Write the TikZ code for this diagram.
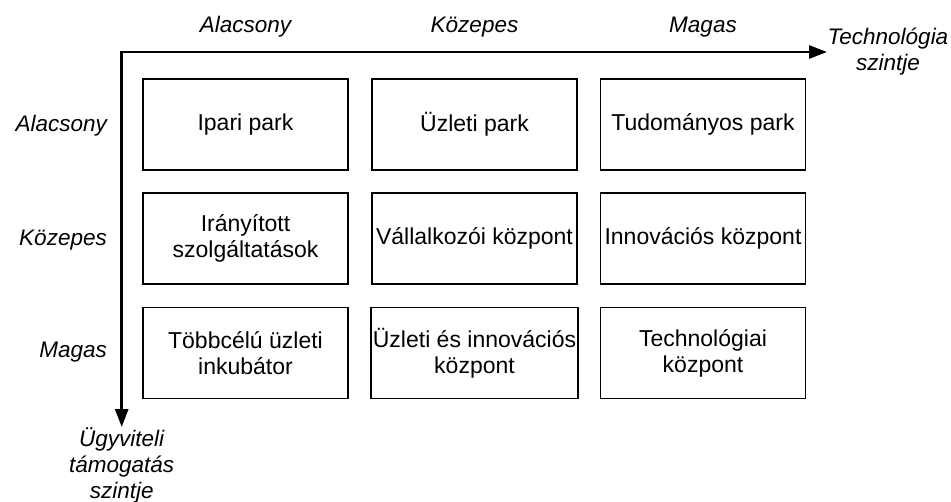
\documentclass[tikz,border=0pt]{standalone}
\usepackage{fontspec}
\setmainfont{Liberation Sans}
\usetikzlibrary{arrows.meta}
\begin{document}
\begin{tikzpicture}[x=1pt,y=-1pt,
  cell/.style={draw, line width=1.3pt, minimum width=205pt, minimum height=91pt,
    align=center, font=\fontsize{23}{26}\selectfont, inner sep=2pt},
  lbl/.style={font=\fontsize{22.5}{26}\selectfont\itshape, align=center, inner sep=0pt},
  axis/.style={line width=2.7pt, line join=miter,
    {Triangle[length=18pt,width=13pt]}-{Triangle[length=18pt,width=13pt]}}]
\useasboundingbox (0,0) rectangle (951,501);
% axes
\coordinate (O) at (121.7,52);
\coordinate (xend) at (827,52);
\coordinate (yend) at (121.7,427);
\draw[axis] (yend) -- (O) -- (xend);
\node[lbl] (xlab) at (888,52) {Technológia\\szintje};
\node[lbl] (ylab) at (121.7,465) {Ügyviteli\\támogatás\\szintje};
% column headers
\node[lbl] (c1) at (245.5,27) {Alacsony};
\node[lbl] (c2) at (474.5,27) {Közepes};
\node[lbl] (c3) at (703,27) {Magas};
% row headers
\node[lbl, anchor=east] (r1) at (107,126) {Alacsony};
\node[lbl, anchor=east] (r2) at (107,240) {Közepes};
\node[lbl, anchor=east] (r3) at (107,352) {Magas};
% cells
\node[cell] (b11) at (245.5,124.5) {Ipari park};
\node[cell] (b12) at (474.5,124.5) {Üzleti park};
\node[cell] (b13) at (703,124.5) {Tudományos park};
\node[cell] (b21) at (245.5,238.5) {Irányított\\szolgáltatások};
\node[cell] (b22) at (474.5,238.5) {Vállalkozói központ};
\node[cell] (b23) at (703,238.5) {Innovációs központ};
\node[cell] (b31) at (245.5,353) {Többcélú üzleti\\inkubátor};
\node[cell] (b32) at (474.5,353) {Üzleti és innovációs\\központ};
\node[cell] (b33) at (703,353) {Technológiai\\központ};
\end{tikzpicture}
\end{document}
